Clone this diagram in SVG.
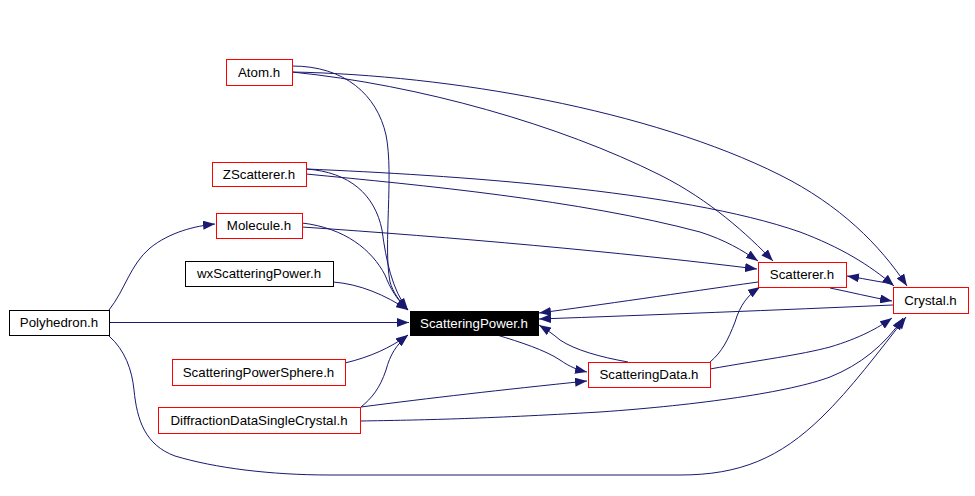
<svg xmlns="http://www.w3.org/2000/svg" width="975" height="496" viewBox="0 0 975 496">
<defs>
<marker id="a" markerWidth="12" markerHeight="9" refX="12" refY="4.5" orient="auto" markerUnits="userSpaceOnUse"><path d="M0,0 L12,4.5 L0,9 z" fill="#191970"/></marker>
<style>
.e{fill:none;stroke:#191970;stroke-width:1;marker-end:url(#a)}
.n rect{fill:#fff;stroke:#f00;stroke-width:1}
.n.b rect{stroke:#000}
.n text{font-family:"Liberation Sans",Arial,sans-serif;font-size:13.3px;fill:#000;text-anchor:middle}
#ScatteringPower rect{fill:#000;stroke:#000}
#ScatteringPower text{fill:#fff}
</style>
</defs>
<rect width="975" height="496" fill="#fff"/>
<g id="edges">
<path class="e" d="M292,66 C345,66 377,95 386,135 C394,175 383,245 390,282 C393,292 399,301 408,310"/>
<path class="e" d="M292,72 C420,85 560,125 660,175 C710,200 748,235 773,261"/>
<path class="e" d="M292,72 C450,75 650,110 780,175 C840,205 880,245 907,286"/>
<path class="e" d="M306,169 C350,172 375,195 382,230 C386,260 392,290 408,310"/>
<path class="e" d="M306,174 C420,185 580,200 700,232 C725,240 742,250 758,261"/>
<path class="e" d="M306,169 C450,175 680,190 800,232 C840,247 870,265 894,286"/>
<path class="e" d="M302,223 C345,228 372,250 385,275 C390,288 397,300 408,310"/>
<path class="e" d="M302,227 C450,237 620,252 757,269"/>
<path class="e" d="M333,282 C360,284 385,295 408,310"/>
<path class="e" d="M109,310 C125,290 130,265 150,248 C170,232 195,226 215,224"/>
<path class="e" d="M109,322.5 L409,322.5"/>
<path class="e" d="M109,336 C125,350 132,370 134,390 C137,420 145,445 175,456 C215,468 270,475 330,475 L680,475 C740,475 780,458 822,417 C850,390 880,350 906,317"/>
<path class="e" d="M345,363 C370,357 390,348 408,335"/>
<path class="e" d="M361,407 C372,398 380,388 386,370 C390,355 396,345 408,335"/>
<path class="e" d="M361,407 C430,398 500,390 587,381"/>
<path class="e" d="M361,421 C420,420 480,419 600,412 C700,405 790,392 830,377 C860,365 885,345 903,318"/>
<path class="e" d="M758,282 C680,293 600,305 539,313"/>
<path class="e" d="M893,305 C780,310 650,315 539,319"/>
<path class="e" d="M497,335 C520,342 545,350 560,360 C570,367 578,370 587,372"/>
<path class="e" d="M628,362 C600,357 575,350 560,340 C553,334 547,330 539,325"/>
<path class="e" d="M710,362 C722,352 728,340 735,322 C740,305 748,295 760,287"/>
<path class="e" d="M710,369 C760,360 800,355 830,347 C860,338 878,328 892,318"/>
<path class="e" d="M830,288 C850,292 870,297 892,301"/>
<path class="e" d="M893,284 C875,281 860,278 847,276"/>
</g>
<g id="Atom" class="n"><rect x="226.5" y="59.5" width="66" height="26"/><text x="259" y="77">Atom.h</text></g>
<g id="ZScatterer" class="n"><rect x="212.5" y="162.5" width="94" height="24"/><text x="259" y="179">ZScatterer.h</text></g>
<g id="Molecule" class="n"><rect x="216.5" y="213.5" width="86" height="25"/><text x="259" y="230">Molecule.h</text></g>
<g id="wxScatteringPower" class="n b"><rect x="185.5" y="261.5" width="148" height="25"/><text x="259" y="278">wxScatteringPower.h</text></g>
<g id="Polyhedron" class="n b"><rect x="9.5" y="310.5" width="100" height="25"/><text x="59" y="327">Polyhedron.h</text></g>
<g id="ScatteringPowerSphere" class="n"><rect x="172.5" y="359.5" width="173" height="26"/><text x="258.5" y="377">ScatteringPowerSphere.h</text></g>
<g id="DiffractionDataSingleCrystal" class="n"><rect x="158.5" y="407.5" width="202" height="26"/><text x="259" y="425">DiffractionDataSingleCrystal.h</text></g>
<g id="ScatteringPower" class="n"><rect x="410.5" y="311.5" width="128" height="24"/><text x="474" y="328">ScatteringPower.h</text></g>
<g id="ScatteringData" class="n"><rect x="588.5" y="362.5" width="122" height="25"/><text x="649" y="379">ScatteringData.h</text></g>
<g id="Scatterer" class="n"><rect x="758.5" y="262.5" width="88" height="25"/><text x="802" y="279">Scatterer.h</text></g>
<g id="Crystal" class="n"><rect x="893.5" y="287.5" width="75" height="26"/><text x="930.5" y="305">Crystal.h</text></g>
</svg>
